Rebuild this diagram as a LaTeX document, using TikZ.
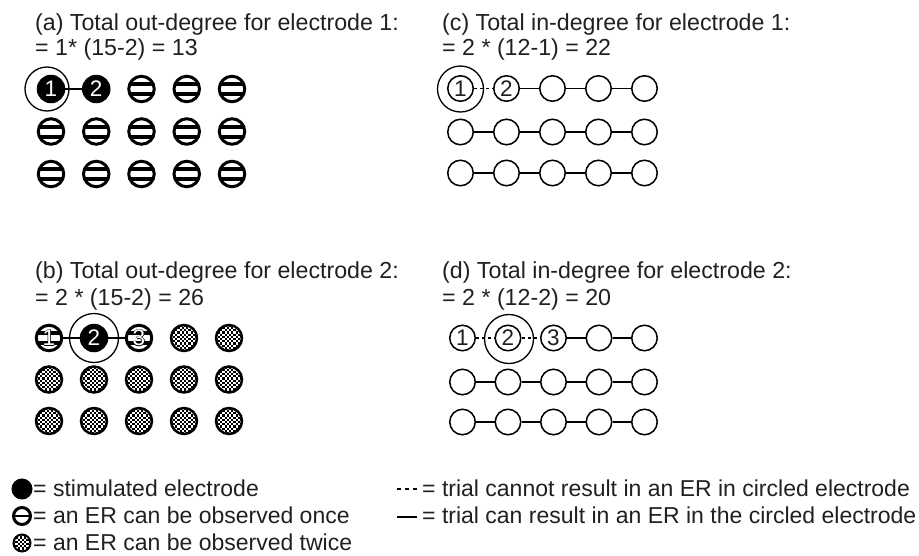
\documentclass[tikz,border=0pt]{standalone}
\usepackage{fontspec}
\setmainfont{Liberation Sans}
\definecolor{ink}{RGB}{35,31,32}
\newcommand\olnum[1]{\leavevmode
  \rlap{\kern0.7pt\textcolor{black}{#1}}%
  \rlap{\kern-0.7pt\textcolor{black}{#1}}%
  \rlap{\raisebox{0.7pt}{\textcolor{black}{#1}}}%
  \rlap{\raisebox{-0.7pt}{\textcolor{black}{#1}}}%
  \textcolor{white}{#1}}
\begin{document}
\begin{tikzpicture}[x=1pt,y=-1pt,
  title/.style={anchor=base west, inner sep=0pt, font=\fontsize{23.2}{26}\selectfont, text=ink},
  legtxt/.style={anchor=base west, inner sep=0pt, font=\fontsize{23}{26}\selectfont, text=ink},
  el/.style={circle, inner sep=0pt, font=\fontsize{22.5}{22.5}\selectfont},
  stim/.style={el, fill=black, draw=black, line width=1pt, minimum size=27.5pt, text=white},
  once/.style={el, draw=black, line width=3pt, fill=white, minimum size=25.5pt,
    path picture={\foreach \s in {-5,5}{\draw[black, line width=4pt] ([yshift=\s pt]path picture bounding box.west) -- ([yshift=\s pt]path picture bounding box.east);}}},
  legonce/.style={el, draw=black, line width=3pt, fill=white, minimum size=17pt,
    path picture={\draw[black, line width=2.5pt] (path picture bounding box.west) -- (path picture bounding box.east);}},
  twice/.style={el, draw=black, line width=2.5pt, fill=white, minimum size=26pt,
    path picture={\foreach \i in {-7,...,6}\foreach \j in {-7,...,6}{%
      \pgfmathtruncatemacro\chk{mod(\i+\j+20,2)}%
      \ifnum\chk=0 \fill[black, shift={(path picture bounding box.center)}] (\i*2.2,\j*2.2) rectangle ++(2.2,2.2);\fi}}},
  open/.style={el, draw=black, line width=1.5pt, minimum size=25.5pt, text=ink},
  ring/.style={circle, draw=black, line width=1.3pt, inner sep=0pt},
  link/.style={line width=1.5pt},
  nolink/.style={line width=1.3pt, dash pattern=on 3pt off 3pt}]
\useasboundingbox (0,0) rectangle (919,555);

% ---------- titles
\node[title] (ta1) at (35,30) {(a) Total out-degree for electrode 1:};
\node[title] (ta2) at (35,55.5) {= 1* (15-2) = 13};
\node[title] (tc1) at (442,30) {(c) Total in-degree for electrode 1:};
\node[title] (tc2) at (442,55.5) {= 2 * (12-1) = 22};
\node[title] (tb1) at (35,278) {(b) Total out-degree for electrode 2:};
\node[title] (tb2) at (35,305) {= 2 * (15-2) = 26};
\node[title] (td1) at (442,278) {(d) Total in-degree for electrode 2:};
\node[title] (td2) at (442,305) {= 2 * (12-2) = 20};

% ---------- (a)
\node[stim] (a11) at (51,89) {1};
\node[stim] (a12) at (96.25,89) {2};
\foreach \c in {3,4,5} \node[once] (a1\c) at ({51+45.25*(\c-1)},89) {};
\foreach \r/\y in {2/131.5,3/174} \foreach \c in {1,...,5}
  \node[once] (a\r\c) at ({51+45.25*(\c-1)},\y) {};
\node[ring, minimum size=44pt] (aring) at (47,89) {};
\draw[link] (a11) -- (a12);

% ---------- (b)
\node[once] (b11) at (49,338) {\olnum{1}};
\node[stim] (b12) at (94,338) {2};
\node[once] (b13) at (139,338) {\olnum{3}};
\foreach \c in {4,5} \node[twice] (b1\c) at ({49+45*(\c-1)},338) {};
\foreach \r/\y in {2/379.5,3/421} \foreach \c in {1,...,5}
  \node[twice] (b\r\c) at ({49+45*(\c-1)},\y) {};
\node[ring, minimum size=49pt] (bring) at (94,338) {};
\draw[link] (b11) -- (b12);
\draw[link] (b12) -- (b13);

% ---------- (c)
\node[open] (c11) at (460.5,88.5) {1};
\node[open] (c12) at (506.5,88.5) {2};
\foreach \c in {3,4,5} \node[open] (c1\c) at ({460.5+46*(\c-1)},88.5) {};
\foreach \r/\y in {2/132,3/173} \foreach \c in {1,...,5}
  \node[open] (c\r\c) at ({460.5+46*(\c-1)},\y) {};
\node[ring, minimum size=46pt] (cring) at (460.5,89) {};
\draw[nolink] (c11) -- (c12);
\foreach \a/\b in {2/3,3/4,4/5} \draw[link] (c1\a) -- (c1\b);
\foreach \a/\b in {1/2,2/3,3/4,4/5} {
  \draw[link] (c2\a) -- (c2\b);
  \draw[link] (c3\a) -- (c3\b);
}

% ---------- (d)
\node[open] (d11) at (462.5,338) {1};
\node[open] (d12) at (508,338) {2};
\node[open] (d13) at (553.5,338) {3};
\foreach \c in {4,5} \node[open] (d1\c) at ({462.5+45.5*(\c-1)},338) {};
\foreach \r/\y in {2/382,3/422} \foreach \c in {1,...,5}
  \node[open] (d\r\c) at ({462.5+45.5*(\c-1)},\y) {};
\node[ring, minimum size=49pt] (dring) at (509,339) {};
\draw[nolink] (d11) -- (d12);
\draw[nolink] (d12) -- (d13);
\draw[link] (d13) -- (d14);
\draw[link] (d14) -- (d15);
\foreach \a/\b in {1/2,2/3,3/4,4/5} {
  \draw[link] (d2\a) -- (d2\b);
  \draw[link] (d3\a) -- (d3\b);
}

% ---------- legend
\node[stim, minimum size=20pt] (lstim) at (22,489) {};
\node[legonce] (lonce) at (22,516) {};
\node[twice, minimum size=17pt, line width=2pt] (ltwice) at (22,543) {};
\node[legtxt] (l1) at (33,496) {= stimulated electrode};
\node[legtxt] (l2) at (33,523.5) {= an ER can be observed once};
\node[legtxt] (l3) at (33,550.5) {= an ER can be observed twice};
\coordinate (ldA) at (397,489);
\coordinate (ldB) at (417,489);
\draw[line width=1.3pt, dash pattern=on 4pt off 4pt] (ldA) -- (ldB);
\coordinate (lsA) at (397,517);
\coordinate (lsB) at (417,517);
\draw[line width=2pt] (lsA) -- (lsB);
\node[legtxt] (l4) at (422,496) {= trial cannot result in an ER in circled electrode};
\node[legtxt] (l5) at (422,523.5) {= trial can result in an ER in the circled electrode};
\end{tikzpicture}
\end{document}
